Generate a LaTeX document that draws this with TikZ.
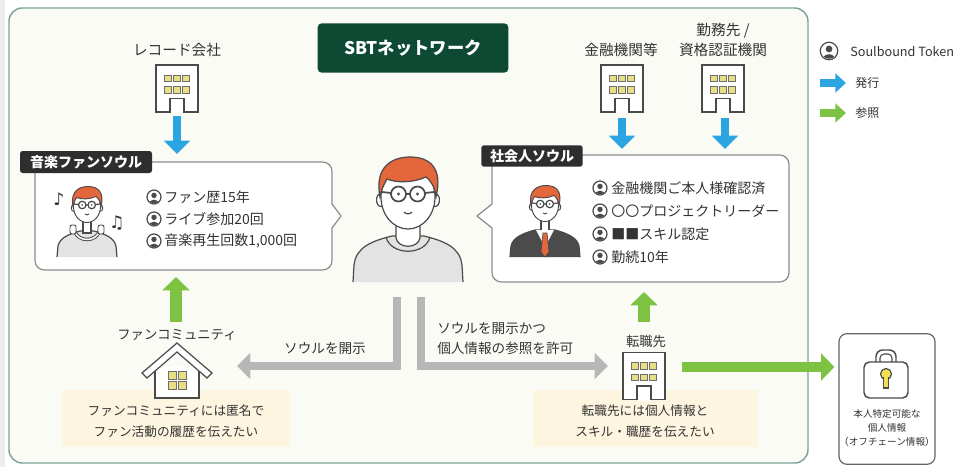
\documentclass[tikz,border=0pt]{standalone}
\usepackage{fontspec}
\setmainfont{Noto Sans CJK JP}
\newfontfamily\notefont{DejaVu Sans}
\usetikzlibrary{arrows.meta}
\definecolor{framec}{HTML}{78A597}
\definecolor{bgc}{HTML}{FBFBF6}
\definecolor{sbtgreen}{HTML}{0E4A33}
\definecolor{issueblue}{HTML}{2BA5E2}
\definecolor{refgreen}{HTML}{7DC243}
\definecolor{flowgray}{HTML}{B7B7B7}
\definecolor{textc}{HTML}{333333}
\definecolor{notec}{HTML}{FDF5DF}
\definecolor{winc}{HTML}{E8DF85}
\definecolor{hairc}{HTML}{E4663B}
\definecolor{shirtc}{HTML}{E3E3E3}
\definecolor{linec}{HTML}{4A4A4A}
\definecolor{tagc}{HTML}{2E2E2E}
\definecolor{suitc}{HTML}{4B4B4B}
\definecolor{keyc}{HTML}{F2DE55}
\definecolor{bubblec}{HTML}{8C8C8C}
\definecolor{stripc}{HTML}{EDEDED}

\tikzset{
  txt/.style={text=textc, inner sep=0pt},
  lbl/.style={txt, font=\fontsize{11pt}{14pt}\selectfont, align=center},
  itemtxt/.style={txt, anchor=west, font=\fontsize{10.5pt}{13pt}\selectfont},
  mid/.style={txt, font=\fontsize{10.2pt}{15pt}\selectfont},
  notetxt/.style={txt, font=\fontsize{9.5pt}{15.5pt}\selectfont, align=center},
  small/.style={txt, font=\fontsize{7.2pt}{10.5pt}\selectfont, align=center},
  tag/.style={fill=tagc, text=white, rounded corners=2pt, inner sep=0pt,
    font=\fontsize{10.5pt}{12pt}\selectfont\bfseries},
  bubble/.style={draw=bubblec, line width=0.9pt, fill=white, rounded corners=7pt},
  bld/.style={draw=linec, line width=0.9pt},
  av/.style={draw=linec, line width=0.9pt},
  glw/.style={line width=1.3pt},
  issue/.style={draw=issueblue, line width=6pt, -{Triangle[width=19pt,length=10pt]}},
  refer/.style={draw=refgreen, line width=9pt, -{Triangle[width=20pt,length=10pt]}},
  referwide/.style={draw=refgreen, line width=7.5pt, -{Triangle[width=20pt,length=10pt]}},
  flow/.style={draw=flowgray, line width=6pt, line join=miter, -{Triangle[width=19pt,length=10pt]}},
  building/.pic={
    \draw[bld, fill=white] (-21,-23.5) rectangle (21,23.5);
    \foreach \xx in {-9,0,9}
      \foreach \yy in {-10,1.5}
        \draw[draw=linec!80, line width=0.6pt, fill=winc] (\xx-3.3,\yy-3.2) rectangle (\xx+3.3,\yy+3.2);
    \fill[white] (-6.3,10) rectangle (6.3,24.5);
    \draw[bld] (-7,23.5) -- (-7,10) -- (7,10) -- (7,23.5);
  },
  sbt/.pic={
    \draw[line width=0.9pt, draw=linec, fill=white] (0,0) circle (7);
    \begin{scope}
      \clip (0,0) circle (6.2);
      \fill[linec] (0,-1.6) circle (2.7);
      \fill[linec] (0,7.8) ellipse (5.4 and 5.2);
    \end{scope}
  },
  avhead/.pic={
    \draw[av, fill=white] (-27,4) ellipse (4.5 and 6.5);
    \draw[av, fill=white] (27,4) ellipse (4.5 and 6.5);
    \draw[av, fill=white] (0,1) ellipse (27 and 32);
    \draw[av, fill=hairc] (-28,1) .. controls (-34,-30) and (-15,-39) .. (2,-39)
      .. controls (22,-39) and (35,-28) .. (28,1)
      .. controls (27,-8) and (24,-14) .. (18,-19)
      .. controls (5,-13) and (-12,-13) .. (-21,-17)
      .. controls (-25,-10) and (-27,-5) .. (-28,1) -- cycle;
    \draw[av, glw] (-9.5,-2) circle (7.5) (9.5,-2) circle (7.5)
      (-2,-2) -- (2,-2) (-17,-3) -- (-26,-4) (17,-3) -- (26,-4);
    \fill[linec] (-9.5,-2) circle (1.6) (9.5,-2) circle (1.6);
    \draw[av] (-4,16) .. controls (-2,18.5) and (2,18.5) .. (4,16);
  }
}

\begin{document}
\begin{tikzpicture}[x=0.75pt, y=-0.75pt]
\useasboundingbox (0,0) rectangle (957,467);
\fill[white] (0,0) rectangle (957,467);
\fill[stripc] (0,0) rectangle (5,467);

% network frame
\draw[draw=framec, line width=1.1pt, fill=bgc, rounded corners=10pt] (9,8) rectangle (808,463);

% title
\node[fill=sbtgreen, text=white, rounded corners=3pt, minimum width=143pt, minimum height=37pt,
  inner sep=0pt, font=\fontsize{13pt}{15pt}\selectfont\bfseries] (title) at (413,48) {SBTネットワーク};

% issuers
\node[lbl] (rec) at (177,50) {レコード会社};
\pic at (177,88.5) {building};
\node[lbl] (fin) at (621,50) {金融機関等};
\pic at (622,88.5) {building};
\node[lbl] (emp1) at (723,31) {勤務先 /};
\node[lbl] (emp2) at (723,50) {資格認証機関};
\pic at (723,88.5) {building};

\coordinate (recA) at (177,116);
\coordinate (recZ) at (177,154);
\coordinate (finA) at (622,118);
\coordinate (finZ) at (622,149);
\coordinate (empA) at (725,118);
\coordinate (empZ) at (725,149);
\draw[issue] (recA) -- (recZ);
\draw[issue] (finA) -- (finZ);
\draw[issue] (empA) -- (empZ);

% fan soul bubble
\draw[bubble] (35,162) rectangle (332,270);
\fill[white] (331,204) -- (341,216) -- (331,228) -- cycle;
\draw[draw=bubblec, line width=0.9pt, line join=round] (332,204) -- (341,216) -- (332,228);
\node[tag, minimum width=99pt, minimum height=16.5pt] (fantag) at (86,162) {音楽ファンソウル};

% fan avatar
\draw[av, fill=shirtc] (57,257) -- (58,246) .. controls (60,237) and (70,234) .. (80,231)
  -- (94,231) .. controls (104,234) and (114,237) .. (116,246) -- (117,257);
\draw[av, fill=white] (83,218) -- (83,233) -- (91,233) -- (91,218);
\draw[draw=linec, line width=2.6pt] (74,229) .. controls (76,243) and (98,243) .. (100,229);
\draw[draw=white, line width=1.1pt] (74,229) .. controls (76,243) and (98,243) .. (100,229);
\draw[av, line width=0.7pt, fill=white, rounded corners=1.5pt] (70,225) rectangle (76,234);
\draw[av, line width=0.7pt, fill=white, rounded corners=1.5pt] (98,225) rectangle (104,234);
\pic[scale=0.5, glw/.style={line width=0.9pt}, av/.style={draw=linec, line width=0.7pt}] at (87,206) {avhead};
\node[txt, font=\notefont\fontsize{13pt}{13pt}\selectfont] (note1) at (59,199) {♪};
\node[txt, font=\notefont\fontsize{13pt}{13pt}\selectfont] (note2) at (117,223) {♫};

% fan soul tokens
\pic at (154,197) {sbt};
\node[itemtxt] (fa1) at (164,197) {ファン歴15年};
\pic at (154,219) {sbt};
\node[itemtxt] (fa2) at (164,219) {ライブ参加20回};
\pic at (154,241) {sbt};
\node[itemtxt] (fa3) at (164,241) {音楽再生回数1,000回};

% central person
\draw[av, fill=shirtc] (353,282) -- (354,265) .. controls (356,247) and (372,241) .. (392,236)
  -- (424,236) .. controls (444,241) and (460,247) .. (462,265) -- (463,282);
\draw[av, fill=white] (396,220) -- (396,238) .. controls (398,249) and (418,249) .. (420,238) -- (420,220);
\draw[av] (386,237) .. controls (391,256) and (425,256) .. (430,237);
\pic at (408,196) {avhead};

% working soul bubble
\draw[bubble] (492,155) rectangle (789,282);
\fill[white] (493,204) -- (477,216) -- (493,228) -- cycle;
\draw[draw=bubblec, line width=0.9pt, line join=round] (492,204) -- (477,216) -- (492,228);
\node[tag, minimum width=76pt, minimum height=16pt] (worktag) at (532,156) {社会人ソウル};

% businessman avatar
\draw[av, fill=suitc] (510,257) -- (511,246) .. controls (513,237) and (524,233) .. (535,230)
  -- (555,230) .. controls (566,233) and (577,237) .. (579,246) -- (580,257);
\draw[av, fill=white] (541,219) -- (541,231) -- (549,231) -- (549,219);
\fill[white] (536,230) -- (545,247) -- (554,230) -- cycle;
\draw[fill=hairc, draw=linec, line width=0.5pt] (543,233) -- (547,233) -- (549,252) -- (545,257) -- (541,252) -- cycle;
\pic[scale=0.5, glw/.style={line width=0.9pt}, av/.style={draw=linec, line width=0.7pt}] at (545,205) {avhead};

% working soul tokens
\pic at (600,188) {sbt};
\node[itemtxt] (wo1) at (611,188) {金融機関ご本人様確認済};
\pic at (600,211) {sbt};
\node[itemtxt] (wo2) at (611,211) {〇〇プロジェクトリーダー};
\pic at (600,234) {sbt};
\node[itemtxt] (wo3) at (611,234) {■■スキル認定};
\pic at (600,257) {sbt};
\node[itemtxt] (wo4) at (611,257) {勤続10年};

% disclosure flows
\coordinate (flowL) at (397,297);
\coordinate (flowR) at (421,297);
\coordinate (comm) at (237,366);
\coordinate (job) at (608,366);
\draw[flow] (flowL) |- (comm);
\draw[flow] (flowR) |- (job);
\node[mid] (disc1) at (325,349) {ソウルを開示};
\node[mid, anchor=west, align=left] (disc2) at (437,339) {ソウルを開示かつ\\個人情報の参照を許可};

% fan community
\fill[notec] (62,390) rectangle (290,447);
\node[lbl, font=\fontsize{10pt}{12pt}\selectfont] (commlbl) at (177,335) {ファンコミュニティ};
\draw[av, fill=white] (155,367) -- (155,398) -- (199,398) -- (199,367);
\draw[av, fill=white, line join=miter] (142,373) -- (177,343) -- (212,373) -- (207,378)
  -- (177,352) -- (147,378) -- cycle;
\foreach \xx/\yy in {172/375, 182/375, 172/385, 182/385}
  \draw[draw=linec!80, line width=0.6pt, fill=winc] (\xx-4,\yy-4) rectangle (\xx+4,\yy+4);
\node[notetxt] (commnote) at (176,421) {ファンコミュニティには匿名で\\ファン活動の履歴を伝えたい};

% job change
\fill[notec] (533,390) rectangle (758,447);
\node[lbl, font=\fontsize{10pt}{12pt}\selectfont] (joblbl) at (646,341) {転職先};
\pic at (644,376) {building};
\node[notetxt] (jobnote) at (645,421) {転職先には個人情報と\\スキル・職歴を伝えたい};

% reference arrows
\coordinate (fanUpA) at (176,322);
\coordinate (fanUpZ) at (176,277);
\coordinate (jobUpA) at (644,322);
\coordinate (jobUpZ) at (644,292);
\draw[refer] (fanUpA) -- (fanUpZ);
\draw[refer] (jobUpA) -- (jobUpZ);

% off-chain personal data
\node[draw=linec!85, line width=0.9pt, fill=white, rounded corners=6pt, minimum width=72pt,
  minimum height=98pt, inner sep=0pt] (priv) at (887,399) {};
\coordinate (jobOut) at (682,367);
\draw[referwide, shorten >=3pt] (jobOut) -- (priv.west |- jobOut);
\draw[av, line width=1.1pt, rounded corners=5pt] (876,362) -- (876,350) -- (896,350) -- (896,362);
\draw[av, line width=0.8pt, rounded corners=3pt] (880,362) -- (880,354) -- (892,354) -- (892,362);
\draw[av, line width=1.1pt, fill=white, rounded corners=4pt] (864,362) rectangle (908,398);
\draw[av, fill=keyc] (886,374) circle (5.5);
\draw[av, fill=keyc] (883.6,378) rectangle (888.4,388);
\fill[keyc] (884.1,376) rectangle (887.9,380);
\node[small] (privtxt) at (887,428) {本人特定可能な\\個人情報\\（オフチェーン情報）};

% legend
\pic[scale=1.25] at (829,51) {sbt};
\node[txt, anchor=west, font=\fontsize{9.5pt}{11pt}\selectfont] (legsbt) at (850,52) {Soulbound Token};
\coordinate (legBA) at (820,83);
\coordinate (legBZ) at (846,83);
\draw[draw=issueblue, line width=5.5pt, -{Triangle[width=14pt,length=8pt]}] (legBA) -- (legBZ);
\node[txt, anchor=west, font=\fontsize{9pt}{11pt}\selectfont] (legiss) at (855,83) {発行};
\coordinate (legGA) at (820,113);
\coordinate (legGZ) at (846,113);
\draw[draw=refgreen, line width=5.5pt, -{Triangle[width=14pt,length=8pt]}] (legGA) -- (legGZ);
\node[txt, anchor=west, font=\fontsize{9pt}{11pt}\selectfont] (legref) at (855,113) {参照};
\end{tikzpicture}
\end{document}
